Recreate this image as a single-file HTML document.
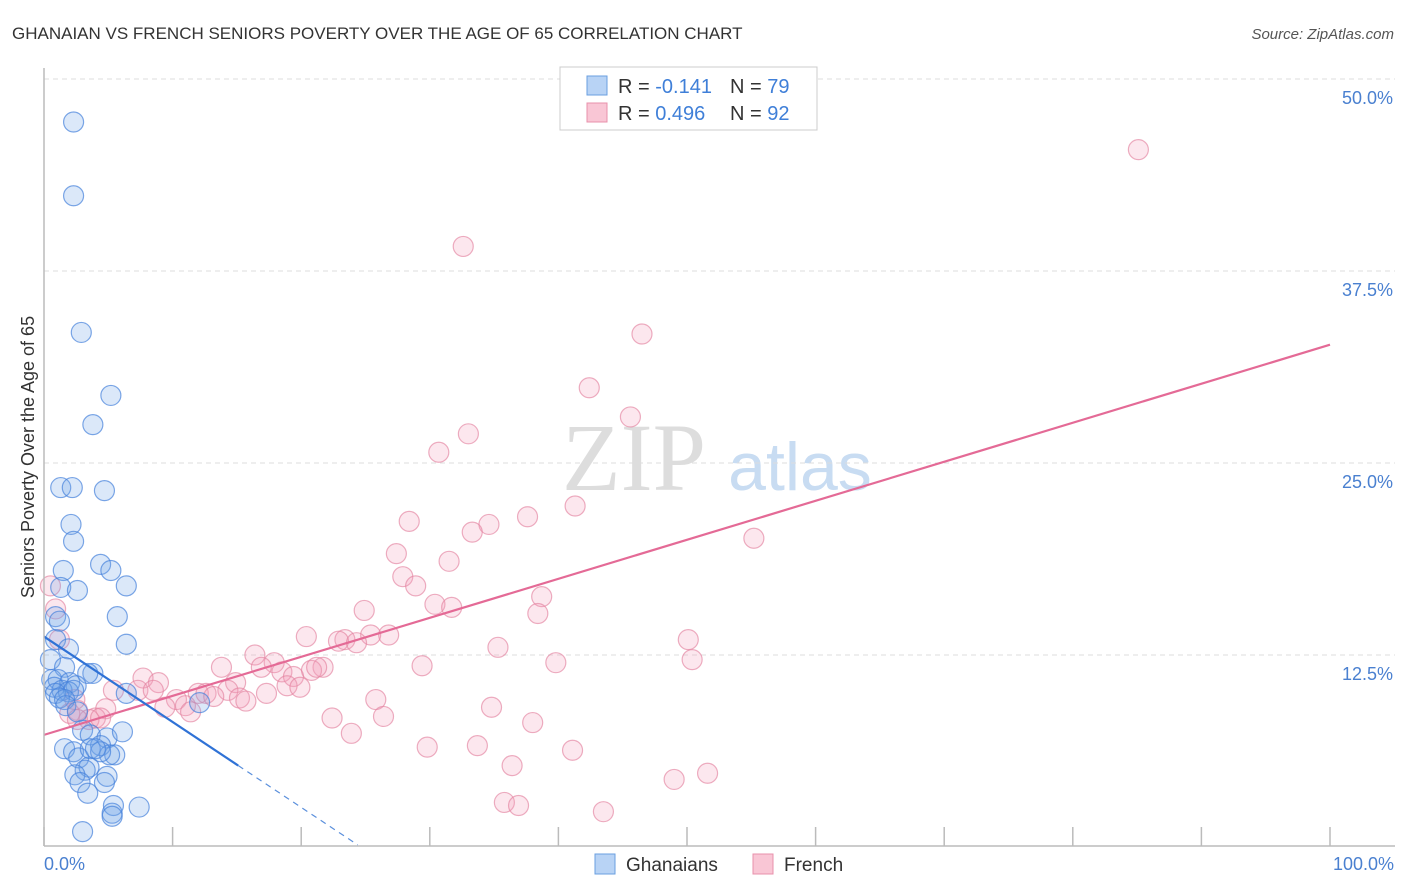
<!DOCTYPE html>
<html><head><meta charset="utf-8"><style>
body{margin:0;background:#fff;font-family:"Liberation Sans",sans-serif;}
#wrap{position:relative;width:1406px;height:892px;overflow:hidden}
</style></head><body><div id="wrap">
<svg id="svg" width="1406" height="892">
<text x="12" y="39" font-size="17" fill="#333">GHANAIAN VS FRENCH SENIORS POVERTY OVER THE AGE OF 65 CORRELATION CHART</text>
<text x="1394" y="39" font-size="15" fill="#555" text-anchor="end" font-style="italic">Source: ZipAtlas.com</text>
<text x="0" y="0" transform="translate(34,457) rotate(-90)" font-size="18" fill="#333" text-anchor="middle">Seniors Poverty Over the Age of 65</text>
<text x="634" y="490" font-size="96" fill="#ddd" font-family="Liberation Serif,serif" text-anchor="middle">ZIP</text>
<text x="800" y="490" font-size="68" fill="#c8dcf2" text-anchor="middle">atlas</text>
<g id="grid"></g><g id="pts"></g><g id="lines"></g>
<line x1="44" y1="68" x2="44" y2="846" stroke="#bbb" stroke-width="1.5"/>
<line x1="44" y1="846" x2="1395" y2="846" stroke="#bbb" stroke-width="1.5"/>
<text x="44" y="870" font-size="18" fill="#4a80d0">0.0%</text>
<text x="1394" y="870" font-size="18" fill="#4a80d0" text-anchor="end">100.0%</text>
<g>
<rect x="560" y="67" width="257" height="63" fill="#fff" stroke="#ccc"/>
<rect x="587" y="76" width="20" height="19" fill="#b8d3f5" stroke="#6a9fe0"/>
<rect x="587" y="103" width="20" height="19" fill="#f9c6d5" stroke="#e890ab"/>
<text x="618" y="93" font-size="20" fill="#333">R = <tspan fill="#3f7fd8">-0.141</tspan></text>
<text x="730" y="93" font-size="20" fill="#333">N = <tspan fill="#3f7fd8">79</tspan></text>
<text x="618" y="120" font-size="20" fill="#333">R = <tspan fill="#3f7fd8">0.496</tspan></text>
<text x="730" y="120" font-size="20" fill="#333">N = <tspan fill="#3f7fd8">92</tspan></text>
</g>
<g>
<rect x="595" y="854" width="20" height="20" fill="#b8d3f5" stroke="#6a9fe0"/>
<text x="626" y="871" font-size="19" fill="#333">Ghanaians</text>
<rect x="753" y="854" width="20" height="20" fill="#f9c6d5" stroke="#e890ab"/>
<text x="784" y="871" font-size="19" fill="#333">French</text>
</g>
</svg></div>
<script>
const yTicks=[12.5,25,37.5,50];
const yTickLabels=["12.5%","25.0%","37.5%","50.0%"];
const xTicks=[0,10,20,30,40,50,60,70,80,90,100];
const blueX=[2.3,2.3,2.9,5.2,3.8,1.3,2.2,4.7,2.1,2.3,4.4,5.2,1.5,6.4,1.3,2.6,5.7,0.9,1.2,6.4,0.9,1.9,0.5,1.6,3.8,3.4,0.6,1.1,2.0,2.5,0.8,1.4,1.9,2.3,0.9,1.2,1.6,6.4,12.1,1.7,2.6,3.0,3.6,4.9,4.4,6.1,1.6,2.3,5.5,2.7,3.5,3.2,2.4,4.9,2.8,4.7,3.4,5.4,5.3,5.3,7.4,3.0,3.6,5.1,4.4,4.0];
const blueY=[47.2,42.4,33.5,29.4,27.5,23.4,23.4,23.2,21.0,19.9,18.4,18.0,18.0,17.0,16.9,16.7,15.0,15.0,14.7,13.2,13.5,12.9,12.2,11.7,11.3,11.3,10.9,10.9,10.7,10.5,10.4,10.2,10.1,10.2,10.0,9.7,9.6,10.0,9.4,9.2,8.8,7.6,7.3,7.1,6.6,7.5,6.4,6.2,6.0,5.8,5.2,5.0,4.7,4.6,4.2,4.2,3.5,2.7,2.2,2.0,2.6,1.0,6.4,6.0,6.2,6.4];
const pinkX=[85.1,32.6,46.5,42.4,45.6,33.0,30.7,41.3,37.6,28.4,34.6,33.3,55.2,27.4,31.5,27.9,28.9,38.7,30.4,31.7,24.9,38.4,20.4,26.8,25.4,23.4,22.9,24.3,50.1,35.3,16.4,50.4,39.8,17.9,29.4,13.8,16.9,21.7,20.8,21.2,18.5,19.4,7.7,14.9,8.9,18.9,19.9,7.3,5.4,14.3,17.3,12.0,12.6,8.5,10.3,13.2,15.2,15.7,25.8,11.0,9.4,11.4,34.8,4.8,2.6,2.0,22.4,26.4,4.0,3.5,4.4,38.0,23.9,29.8,33.7,41.1,36.4,51.6,49.0,35.8,36.9,43.5,0.5,1.2,0.9,2.4,2.6];
const pinkY=[45.4,39.1,33.4,29.9,28.0,26.9,25.7,22.2,21.5,21.2,21.0,20.5,20.1,19.1,18.6,17.6,17.0,16.3,15.8,15.6,15.4,15.2,13.7,13.8,13.8,13.5,13.4,13.3,13.5,13.0,12.5,12.2,12.0,12.0,11.8,11.7,11.7,11.7,11.5,11.7,11.4,11.1,11.0,10.7,10.7,10.5,10.4,10.2,10.2,10.2,10.0,10.0,10.0,10.2,9.6,9.8,9.7,9.5,9.6,9.2,9.1,8.8,9.1,9.0,8.9,8.7,8.4,8.5,8.4,8.3,8.4,8.1,7.4,6.5,6.6,6.3,5.3,4.8,4.4,2.9,2.7,2.3,17.0,13.5,15.5,9.6,8.3];
const blueFit=[13.7,-0.556];
const pinkFit=[7.3,0.254];
const NS="http://www.w3.org/2000/svg";
const sx=v=>44+v*12.86, sy=v=>847-v*15.36;
function mk(tag,attrs,parent){const e=document.createElementNS(NS,tag);for(const k in attrs)e.setAttribute(k,attrs[k]);parent.appendChild(e);return e;}
const grid=document.getElementById('grid');
yTicks.forEach((t,i)=>{
 const l=mk('line',{x1:44,x2:1395,y1:sy(t),y2:sy(t),stroke:'#ddd','stroke-dasharray':'5,4'},grid);
 
 
 const tx=mk('text',{x:1393,y:sy(t)+25,'font-size':18,fill:'#4a80d0','text-anchor':'end'},grid);
 tx.textContent=yTickLabels[i];
 
 
});
xTicks.forEach(t=>{
 const l=mk('line',{x1:sx(t),x2:sx(t),y1:827,y2:846,stroke:'#bbb','stroke-width':1.5},grid);
 
 
});
const pts=document.getElementById('pts');
pinkX.forEach((x,i)=>{
 const c=mk('circle',{cx:sx(x),cy:sy(pinkY[i]),r:10,fill:'rgba(242,160,188,0.25)',stroke:'rgba(228,130,160,0.65)','stroke-width':1.2},pts);
 
 
});
blueX.forEach((x,i)=>{
 const c=mk('circle',{cx:sx(x),cy:sy(blueY[i]),r:10,fill:'rgba(110,165,232,0.25)',stroke:'rgba(70,130,220,0.7)','stroke-width':1.2},pts);
 
 
});
const lines=document.getElementById('lines');
const f=(p,x)=>p[0]+p[1]*x;
let a=mk('line',{x1:sx(0),y1:sy(f(pinkFit,0)),x2:sx(100),y2:sy(f(pinkFit,100)),stroke:'#e46a96','stroke-width':2.2},lines);


let b=mk('line',{x1:sx(0),y1:sy(f(blueFit,0)),x2:sx(15.1),y2:sy(f(blueFit,15.1)),stroke:'#2f72d6','stroke-width':2.2},lines);


let d=mk('line',{x1:sx(15.1),y1:sy(f(blueFit,15.1)),x2:sx(24.4),y2:sy(f(blueFit,24.4)),stroke:'#5a8fdc','stroke-width':1.2,'stroke-dasharray':'6,5'},lines);


</script></body></html>
